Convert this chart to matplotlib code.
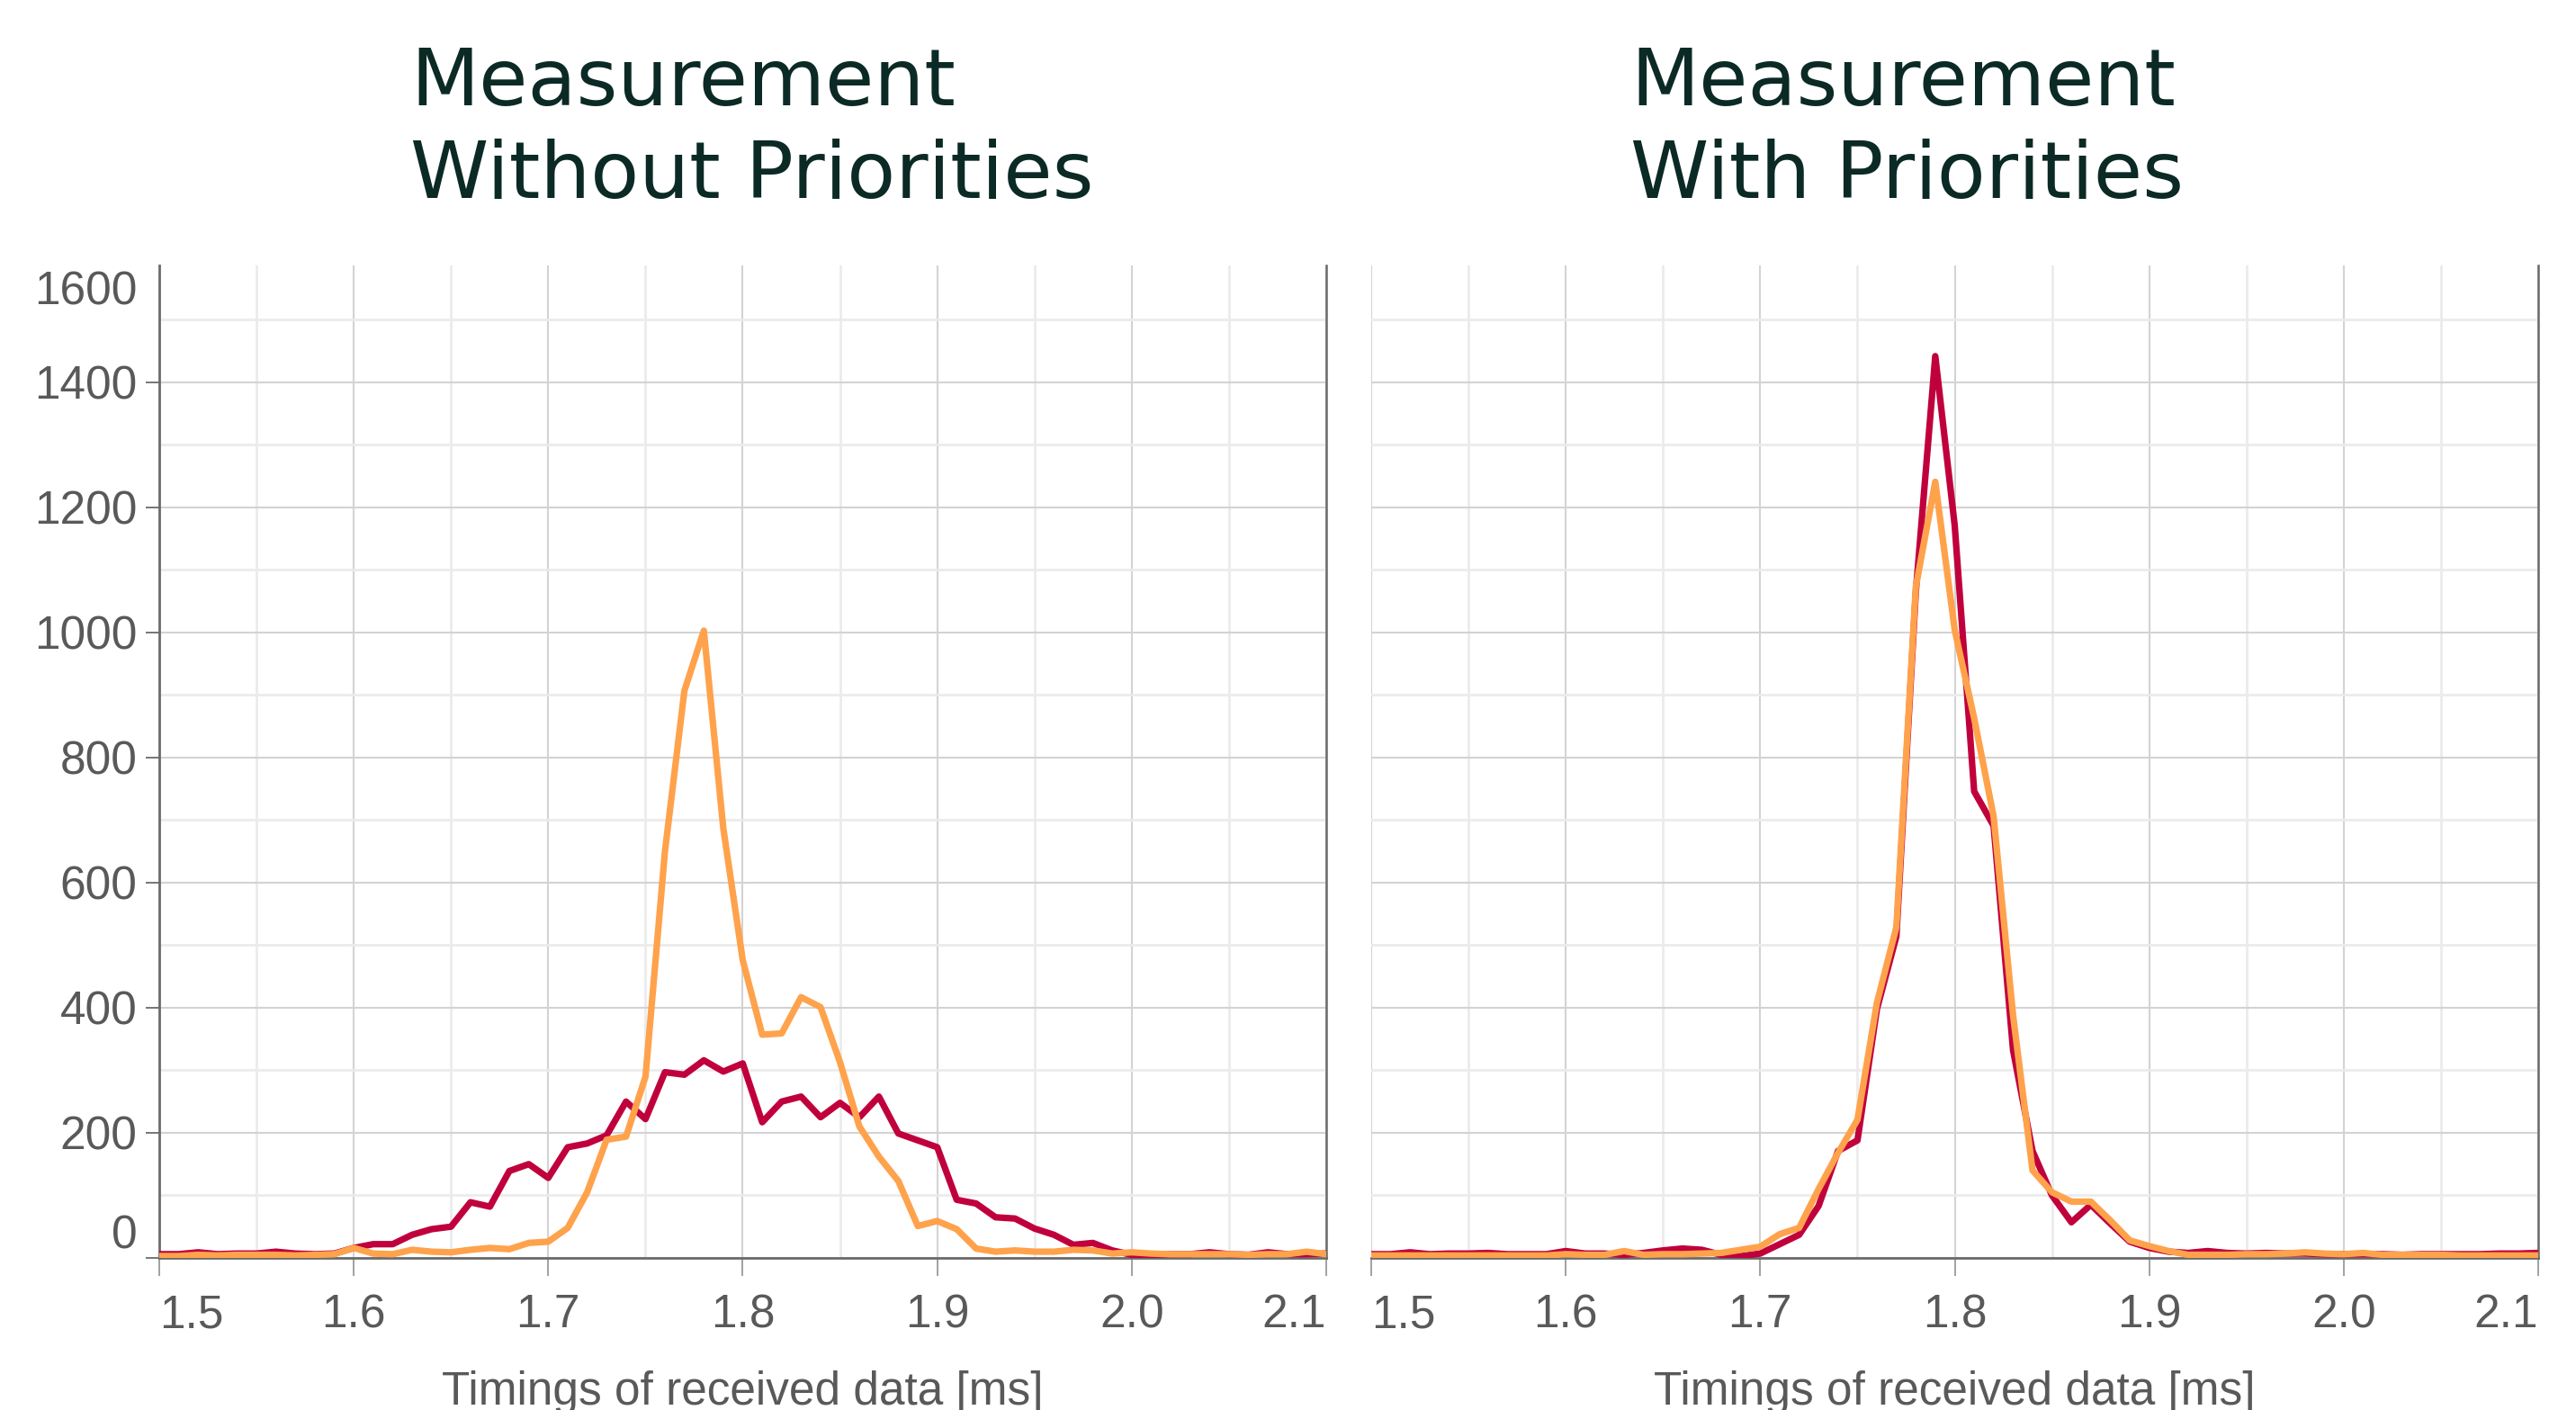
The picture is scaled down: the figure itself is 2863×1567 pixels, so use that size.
import matplotlib
matplotlib.use("Agg")
import matplotlib.pyplot as plt
import matplotlib.font_manager as fm

# ---------------- data ----------------
timings = [1.50, 1.51, 1.52, 1.53, 1.54, 1.55, 1.56, 1.57, 1.58, 1.59,
           1.60, 1.61, 1.62, 1.63, 1.64, 1.65, 1.66, 1.67, 1.68, 1.69,
           1.70, 1.71, 1.72, 1.73, 1.74, 1.75, 1.76, 1.77, 1.78, 1.79,
           1.80, 1.81, 1.82, 1.83, 1.84, 1.85, 1.86, 1.87, 1.88, 1.89,
           1.90, 1.91, 1.92, 1.93, 1.94, 1.95, 1.96, 1.97, 1.98, 1.99,
           2.00, 2.01, 2.02, 2.03, 2.04, 2.05, 2.06, 2.07, 2.08, 2.09, 2.10]

without_red = [6, 6, 9, 6, 7, 7, 10, 7, 6, 7,
               16, 22, 22, 37, 46, 50, 89, 82, 139, 150,
               128, 177, 183, 196, 250, 222, 297, 293, 316, 298,
               311, 217, 250, 258, 225, 248, 225, 258, 199, 188,
               177, 93, 87, 65, 63, 47, 37, 21, 24, 12,
               5, 5, 6, 6, 9, 6, 5, 9, 6, 6, 7]

without_orange = [3, 3, 5, 4, 5, 5, 5, 4, 5, 6,
                  16, 7, 6, 13, 10, 9, 13, 16, 14, 24,
                  26, 48, 105, 189, 194, 290, 650, 907, 1003, 687,
                  476, 357, 359, 417, 401, 313, 210, 162, 123, 51,
                  59, 46, 15, 10, 12, 10, 10, 13, 12, 7,
                  9, 7, 6, 6, 6, 6, 5, 6, 6, 10, 6]

with_red = [6, 6, 9, 6, 7, 7, 8, 6, 6, 6,
            11, 7, 7, 5, 8, 12, 15, 13, 5, 3,
            7, 22, 37, 83, 171, 188, 398, 514, 1065, 1442,
            1171, 746, 691, 332, 171, 100, 57, 85, 55, 26,
            16, 10, 8, 11, 8, 7, 8, 7, 7, 6,
            6, 6, 6, 5, 6, 6, 6, 6, 7, 7, 8]

with_orange = [4, 4, 4, 4, 4, 4, 4, 4, 4, 4,
               6, 5, 5, 11, 5, 6, 6, 7, 8, 13,
               18, 38, 48, 110, 168, 221, 408, 529, 1073, 1241,
               1004, 863, 706, 388, 140, 105, 90, 90, 60, 28,
               19, 11, 5, 5, 5, 6, 6, 7, 9, 7,
               6, 8, 5, 5, 5, 5, 4, 4, 4, 4, 4]

x_ticks = [1.5, 1.6, 1.7, 1.8, 1.9, 2.0, 2.1]
x_tick_labels = ["1.5", "1.6", "1.7", "1.8", "1.9", "2.0", "2.1"]
x_minor = [1.55, 1.65, 1.75, 1.85, 1.95, 2.05]
y_ticks = [0, 200, 400, 600, 800, 1000, 1200, 1400]
y_tick_labels = ["0", "200", "400", "600", "800", "1000", "1200", "1400"]
y_minor = [100, 300, 500, 700, 900, 1100, 1300, 1500]
titles = [("Measurement", "Without Priorities"), ("Measurement", "With Priorities")]
x_title = "Timings of received data [ms]"

RED = "#c0003c"
ORANGE = "#ffa24c"
TICK_COL = "#595959"
TITLE_COL = "#0c2a25"


def has_font(name):
    try:
        fm.findfont(fm.FontProperties(family=name), fallback_to_default=False)
        return True
    except Exception:
        return False


tick_font = "Liberation Sans Narrow" if has_font("Liberation Sans Narrow") else "Liberation Sans"
tick_size = 42 if tick_font == "Liberation Sans Narrow" else 37

W, H = 2863, 1567
fig = plt.figure(figsize=(W / 100, H / 100), dpi=100)
fig.patch.set_facecolor("white")

y0_px, ytop_px = 1398, 295
ax_w = 1297
lefts = [177, 1524]
axes = []
for i, lx in enumerate(lefts):
    ax = fig.add_axes([lx / W, (H - y0_px) / H, ax_w / W, (y0_px - ytop_px) / H])
    axes.append(ax)

series = [(without_red, without_orange), (with_red, with_orange)]

for i, ax in enumerate(axes):
    red, orange = series[i]
    ax.plot(timings, red, color=RED, lw=5.2, solid_joinstyle="round", zorder=3)
    ax.plot(timings, orange, color=ORANGE, lw=5.2, solid_joinstyle="round", zorder=4)
    ax.set_xlim(1.5, 2.1)
    ax.set_ylim(0, 1587)
    ax.set_xticks(x_ticks)
    ax.set_xticks(x_minor, minor=True)
    ax.set_yticks(y_ticks)
    ax.set_yticks(y_minor, minor=True)
    ax.grid(which="major", color="#d3d3d3", lw=1.5, zorder=0)
    ax.grid(which="minor", color="#ebebeb", lw=2.0, zorder=0)
    ax.set_axisbelow(True)
    ax.tick_params(which="minor", length=0)
    ax.tick_params(axis="x", which="major", length=14.4, width=1.3, color="#9a9a9a",
                   pad=14, labelsize=tick_size, labelcolor=TICK_COL)
    labs = ax.set_xticklabels(x_tick_labels, fontfamily=tick_font)
    labs[0].set_horizontalalignment("left")
    labs[-1].set_horizontalalignment("right")
    ax.spines["top"].set_visible(False)
    ax.spines["bottom"].set_color("#6b6b6b")
    ax.spines["bottom"].set_linewidth(2.0)
    ax.spines["right"].set_color("#6b6b6b")
    ax.spines["right"].set_linewidth(1.8)
    if i == 0:
        ax.spines["left"].set_color("#6b6b6b")
        ax.spines["left"].set_linewidth(2.0)
        ax.tick_params(axis="y", which="major", length=10.8, width=1.3, color="#6b6b6b",
                       pad=7, labelsize=tick_size, labelcolor=TICK_COL)
        ylabs = ax.set_yticklabels(y_tick_labels, fontfamily=tick_font)
        ylabs[0].set_verticalalignment("bottom")
        ax.text(-25 / ax_w, 0.995, "1600", transform=ax.transAxes, ha="right", va="top",
                fontsize=tick_size, color=TICK_COL, fontfamily=tick_font)
    else:
        ax.spines["left"].set_visible(False)
        ax.tick_params(axis="y", which="both", length=0, labelleft=False)

    # axis title
    cx = (lefts[i] + ax_w / 2) / W
    fig.text(cx, (H - 1561) / H, x_title, ha="center", va="baseline",
             fontsize=tick_size, color=TICK_COL, fontfamily=tick_font)

# panel titles
title_x = [456, 1812]
for i, (l1, l2) in enumerate(titles):
    fig.text(title_x[i] / W, (H - 117) / H, l1, ha="left", va="baseline",
             fontsize=63.5, color=TITLE_COL, fontfamily="DejaVu Sans")
    fig.text(title_x[i] / W, (H - 220) / H, l2, ha="left", va="baseline",
             fontsize=63.5, color=TITLE_COL, fontfamily="DejaVu Sans")

fig.savefig("out.png", dpi=100, facecolor="white")
